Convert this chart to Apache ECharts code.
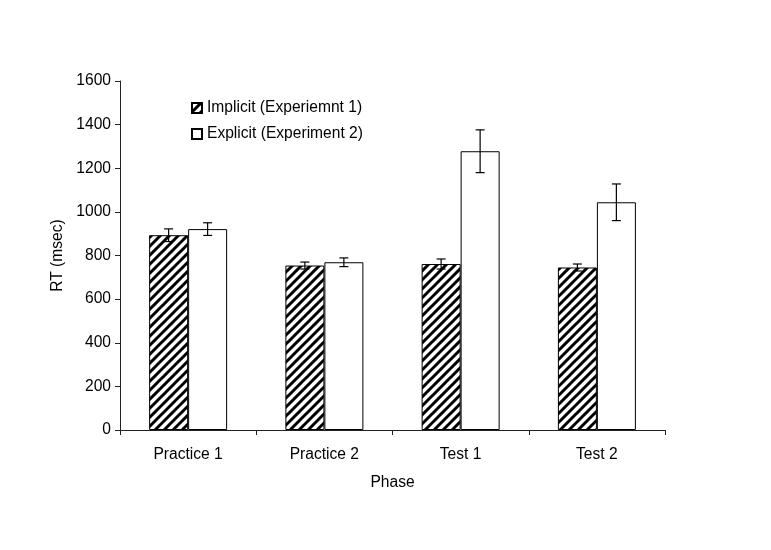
<!DOCTYPE html>
<html>
<head>
<meta charset="utf-8">
<script src="https://cdn.jsdelivr.net/npm/echarts@6/dist/echarts.min.js"></script>
<style>
html, body { margin: 0; padding: 0; background: #fff; }
#chart { width: 771px; height: 550px; }
</style>
</head>
<body>
<div id="chart"></div>
<script>
var phases = ['Practice 1', 'Practice 2', 'Test 1', 'Test 2'];
var implicitRT = [893, 754, 761, 745];
var implicitErr = [29, 16, 23, 16];
var explicitRT = [921, 769, 1278, 1044];
var explicitErr = [29, 20, 98, 84];
var yTicks = [0, 200, 400, 600, 800, 1000, 1200, 1400, 1600];

// diagonal hatch pattern
function makeHatch() {
  var s = 18;
  var c = document.createElement('canvas');
  c.width = s; c.height = s;
  var ctx = c.getContext('2d');
  ctx.fillStyle = '#fff';
  ctx.fillRect(0, 0, s, s);
  ctx.strokeStyle = '#000';
  ctx.lineWidth = 3;
  for (var x = -s; x <= s; x += 9) {
    ctx.beginPath();
    ctx.moveTo(x - 2, s + 2);
    ctx.lineTo(x + s + 2, -2);
    ctx.stroke();
  }
  return c;
}

var barW = 39;

function errorSeries(vals, errs, offset) {
  return {
    type: 'custom',
    silent: true,
    z: 5,
    data: vals.map(function (v, i) { return [i, v - errs[i], v + errs[i]]; }),
    encode: { x: 0, y: [1, 2] },
    renderItem: function (params, api) {
      var lo = api.coord([api.value(0), api.value(1)]);
      var hi = api.coord([api.value(0), api.value(2)]);
      var x = lo[0] + offset;
      var cap = 4.5;
      var st = { stroke: '#000', lineWidth: 1.2 };
      return {
        type: 'group',
        children: [
          { type: 'line', shape: { x1: x, y1: lo[1], x2: x, y2: hi[1] }, style: st },
          { type: 'line', shape: { x1: x - cap, y1: lo[1], x2: x + cap, y2: lo[1] }, style: st },
          { type: 'line', shape: { x1: x - cap, y1: hi[1], x2: x + cap, y2: hi[1] }, style: st }
        ]
      };
    }
  };
}

var chart = echarts.init(document.getElementById('chart'));
var font = 'Liberation Sans';
var fs = 15.6;
chart.setOption({
  animation: false,
  backgroundColor: '#fff',
  textStyle: { fontFamily: font },
  grid: { left: 120, right: 106, top: 81, bottom: 120 },
  legend: {
    orient: 'vertical',
    left: 186,
    top: 95,
    itemGap: 10,
    itemWidth: 10,
    itemHeight: 10,
    icon: 'rect',
    data: ['Implicit (Experiemnt 1)', 'Explicit (Experiment 2)'],
    textStyle: { fontSize: fs, color: '#000', fontFamily: font }
  },
  xAxis: {
    type: 'category',
    data: phases,
    name: 'Phase',
    nameLocation: 'middle',
    nameGap: 45,
    nameTextStyle: { fontSize: fs, color: '#000', fontFamily: font },
    axisLine: { lineStyle: { color: '#222', width: 1 } },
    axisTick: { show: true, length: 5, lineStyle: { color: '#222' } },
    axisLabel: { fontSize: fs, color: '#000', margin: 17, fontFamily: font }
  },
  yAxis: {
    type: 'value',
    min: yTicks[0],
    max: yTicks[yTicks.length - 1],
    interval: 200,
    name: 'RT (msec)',
    nameLocation: 'middle',
    nameGap: 49,
    nameTextStyle: { fontSize: fs, color: '#000', fontFamily: font },
    axisLine: { show: true, lineStyle: { color: '#222', width: 1 } },
    axisTick: { show: true, length: 5, lineStyle: { color: '#222' } },
    axisLabel: { fontSize: fs, color: '#000', margin: 9, fontFamily: font, formatter: function (v) { return String(v); } },
    splitLine: { show: false }
  },
  series: [
    {
      name: 'Implicit (Experiemnt 1)',
      type: 'bar',
      data: implicitRT,
      barWidth: barW,
      barGap: '0%',
      itemStyle: { color: { image: makeHatch(), repeat: 'repeat' }, borderColor: '#000', borderWidth: 1 }
    },
    {
      name: 'Explicit (Experiment 2)',
      type: 'bar',
      data: explicitRT,
      barWidth: barW,
      barGap: '0%',
      itemStyle: { color: '#fff', borderColor: '#000', borderWidth: 1 }
    },
    errorSeries(implicitRT, implicitErr, -barW / 2),
    errorSeries(explicitRT, explicitErr, barW / 2)
  ]
});
</script>
</body>
</html>
